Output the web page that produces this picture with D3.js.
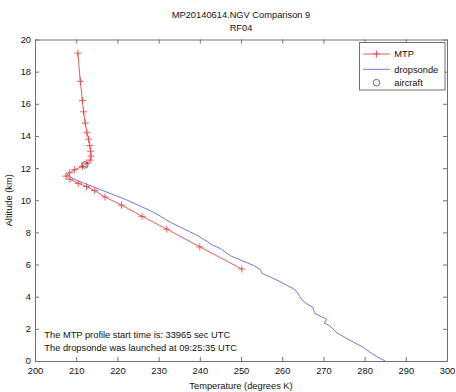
<!DOCTYPE html>
<html>
<head>
<meta charset="utf-8">
<script src="https://cdn.jsdelivr.net/npm/d3@7"></script>
<style>
  body { margin: 0; background: #fff; }
  svg { display: block; font-family: "Liberation Sans", Arial, sans-serif; }
</style>
</head>
<body>
<div class="chart"></div>
<script>
// MTP retrieved profile (temperature K, altitude km)
const mtpTemp = [210.4, 211.0, 211.5, 211.8, 212.2, 212.6, 213.0, 213.3, 213.5, 213.6, 213.4, 212.6, 211.5, 209.6, 208.4, 207.5, 208.5, 210.5, 212.5, 214.5, 217.0, 221.0, 226.0, 232.0, 240.0, 250.2];
const mtpAlt  = [19.15, 17.4, 16.2, 15.5, 14.8, 14.2, 13.8, 13.4, 13.05, 12.75, 12.5, 12.3, 12.1, 11.9, 11.7, 11.5, 11.3, 11.05, 10.85, 10.6, 10.2, 9.7, 9.0, 8.2, 7.1, 5.72];

// dropsonde profile
const sondeTemp = [207.8, 208.6, 209.3, 210.5, 212.0, 214.0, 216.5, 219.0, 222.0, 225.0, 228.0, 230.5, 232.0, 233.5, 235.3, 237.5, 239.5, 240.9, 242.0, 243.0, 245.0, 247.4, 250.2, 253.0, 254.7, 255.1, 256.0, 259.0, 262.7, 263.6, 264.3, 264.8, 266.0, 267.4, 267.6, 268.0, 270.8, 270.2, 271.5, 273.3, 276.0, 279.7, 282.1, 283.5, 285.0];
const sondeAlt  = [11.6, 11.45, 11.35, 11.2, 11.05, 10.85, 10.6, 10.35, 10.05, 9.7, 9.35, 9.0, 8.75, 8.55, 8.32, 8.05, 7.8, 7.57, 7.4, 7.22, 7.0, 6.55, 6.25, 5.95, 5.7, 5.45, 5.35, 5.0, 4.5, 4.3, 4.0, 3.8, 3.55, 3.35, 3.17, 2.95, 2.6, 2.35, 2.2, 1.75, 1.35, 0.85, 0.4, 0.2, 0.0];

// aircraft position
const aircraftTemp = [212.1];
const aircraftAlt = [12.2];

const xTicks = [200, 210, 220, 230, 240, 250, 260, 270, 280, 290, 300];
const yTicks = [0, 2, 4, 6, 8, 10, 12, 14, 16, 18, 20];

const titleLines = ['MP20140614.NGV Comparison 9', 'RF04'];
const notes = ['The MTP profile start time is: 33965 sec UTC', 'The dropsonde was launched at 09:25:35 UTC'];
const legendNames = ['MTP', 'dropsonde', 'aircraft'];

const width = 456, height = 392;
const margin = { top: 39.5, right: 9, bottom: 31, left: 35 };
const fs = '9.3px';
const red = '#e4474b', blue = '#6464d4', axisCol = '#707070';

const svg = d3.select('.chart').append('svg')
  .attr('width', width)
  .attr('height', height);

const x = d3.scaleLinear().domain([200, 300]).range([margin.left, width - margin.right]);
const y = d3.scaleLinear().domain([0, 20]).range([height - margin.bottom, margin.top]);

// axes, MATLAB style: inward ticks on all four sides
function styleAxis(g) {
  g.selectAll('path.domain').attr('stroke', axisCol);
  g.selectAll('.tick line').attr('stroke', axisCol);
  g.selectAll('.tick text').attr('fill', '#111').style('font-size', fs).style('font-family', 'Liberation Sans, Arial, sans-serif');
}

svg.append('g')
  .attr('transform', `translate(0, ${y(0)})`)
  .call(d3.axisBottom(x).tickValues(xTicks).tickSizeInner(-4).tickSizeOuter(0).tickPadding(6))
  .call(styleAxis);

svg.append('g')
  .attr('transform', `translate(0, ${y(20)})`)
  .call(d3.axisTop(x).tickValues(xTicks).tickSizeInner(-4).tickSizeOuter(0).tickFormat(''))
  .call(styleAxis);

svg.append('g')
  .attr('transform', `translate(${x(200)}, 0)`)
  .call(d3.axisLeft(y).tickValues(yTicks).tickSizeInner(-4).tickSizeOuter(0).tickPadding(4))
  .call(styleAxis);

svg.append('g')
  .attr('transform', `translate(${x(300)}, 0)`)
  .call(d3.axisRight(y).tickValues(yTicks).tickSizeInner(-4).tickSizeOuter(0).tickFormat(''))
  .call(styleAxis);

// dropsonde line
const sonde = sondeTemp.map((t, i) => [t, sondeAlt[i]]);
const mtp = mtpTemp.map((t, i) => [t, mtpAlt[i]]);
const line = d3.line().x(d => x(d[0])).y(d => y(d[1]));

svg.append('path')
  .datum(sonde)
  .attr('d', line)
  .attr('fill', 'none')
  .attr('stroke', blue)
  .attr('stroke-width', 0.9);

svg.append('path')
  .datum(mtp)
  .attr('d', line)
  .attr('fill', 'none')
  .attr('stroke', red)
  .attr('stroke-width', 0.9);

const plus = 'M-3.5,0H3.5M0,-3.5V3.5';
svg.selectAll('.mtp-mark')
  .data(mtp)
  .enter()
  .append('path')
  .attr('class', 'mtp-mark')
  .attr('d', plus)
  .attr('transform', d => `translate(${x(d[0])}, ${y(d[1])})`)
  .attr('stroke', red)
  .attr('stroke-width', 0.9);

svg.selectAll('.aircraft')
  .data(aircraftTemp)
  .enter()
  .append('circle')
  .attr('class', 'aircraft')
  .attr('cx', d => x(d))
  .attr('cy', (d, i) => y(aircraftAlt[i]))
  .attr('r', 3.3)
  .attr('fill', 'none')
  .attr('stroke', '#444')
  .attr('stroke-width', 0.8);

// titles
svg.selectAll('.title')
  .data(titleLines)
  .enter()
  .append('text')
  .attr('x', (x(200) + x(300)) / 2)
  .attr('y', (d, i) => 18.3 + i * 13)
  .attr('text-anchor', 'middle')
  .style('font-size', fs)
  .attr('fill', '#111')
  .text(d => d);

svg.append('text')
  .attr('x', (x(200) + x(300)) / 2)
  .attr('y', 388.5)
  .attr('text-anchor', 'middle')
  .style('font-size', fs)
  .attr('fill', '#111')
  .text('Temperature (degrees K)');

svg.append('text')
  .attr('transform', `translate(12, ${(y(0) + y(20)) / 2}) rotate(-90)`)
  .attr('text-anchor', 'middle')
  .style('font-size', fs)
  .attr('fill', '#111')
  .text('Altitude (km)');

// notes
svg.selectAll('.note')
  .data(notes)
  .enter()
  .append('text')
  .attr('x', 44.3)
  .attr('y', (d, i) => 337.5 + i * 13.4)
  .style('font-size', fs)
  .attr('fill', '#111')
  .text(d => d);

// legend
const lg = svg.append('g');
lg.append('rect')
  .attr('x', 359.5).attr('y', 42.5)
  .attr('width', 85.5).attr('height', 47.5)
  .attr('fill', '#fff')
  .attr('stroke', axisCol);

const rowY = [54, 69.3, 82.7];
lg.append('line').attr('x1', 363).attr('x2', 390).attr('y1', rowY[0]).attr('y2', rowY[0]).attr('stroke', red).attr('stroke-width', 0.9);
lg.append('path').attr('d', plus).attr('transform', `translate(376.5, ${rowY[0]})`).attr('stroke', red).attr('stroke-width', 0.9);
lg.append('line').attr('x1', 363).attr('x2', 390).attr('y1', rowY[1]).attr('y2', rowY[1]).attr('stroke', blue).attr('stroke-width', 0.9);
lg.append('circle').attr('cx', 376.5).attr('cy', rowY[2]).attr('r', 3.3).attr('fill', 'none').attr('stroke', '#444').attr('stroke-width', 0.8);

lg.selectAll('.lgtext')
  .data(legendNames)
  .enter()
  .append('text')
  .attr('x', 394.3)
  .attr('y', (d, i) => rowY[i] + 3.3)
  .style('font-size', fs)
  .attr('fill', '#111')
  .text(d => d);
</script>
</body>
</html>
